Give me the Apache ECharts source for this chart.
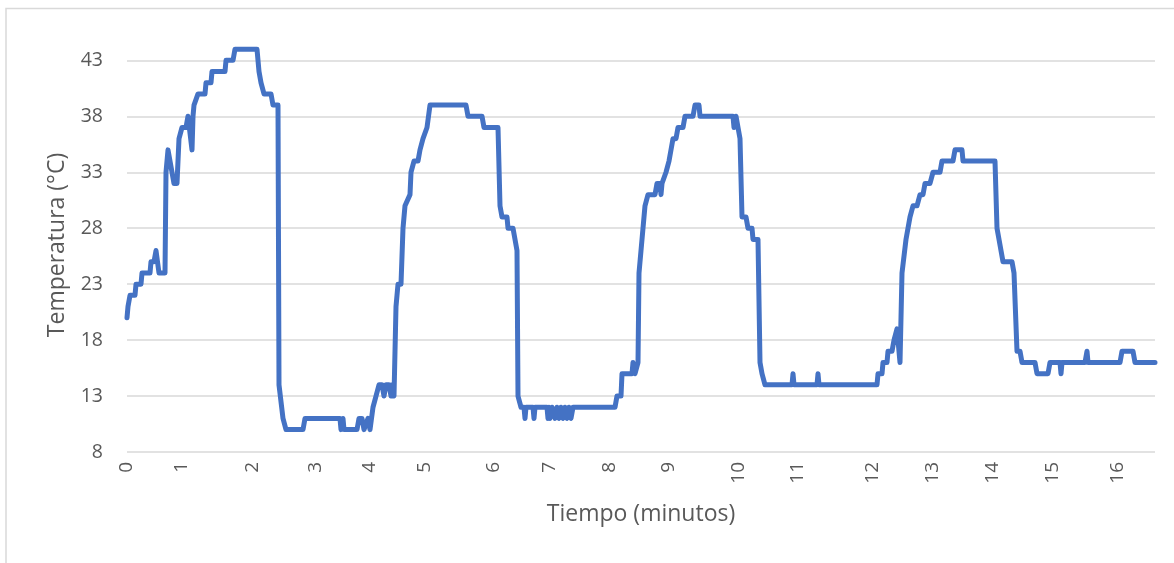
<!DOCTYPE html>
<html>
<head>
<meta charset="utf-8">
<script src="https://cdn.jsdelivr.net/npm/echarts@6/dist/echarts.min.js"></script>
<style>html,body{margin:0;padding:0;background:#fff;}#c{width:1174px;height:563px;}</style>
</head>
<body>
<div id="c"></div>
<script>
// Sample count (category axis of samples, as in the original spreadsheet chart)
var sampleCount = 1029;
// Sample index at which each minute label appears
var minuteStarts = [0, 55, 126, 189, 243, 298, 367, 423, 483, 542, 612, 671, 746, 806, 866, 926, 991];
var minuteLabels = ['0','1','2','3','4','5','6','7','8','9','10','11','12','13','14','15','16'];
// Y axis ticks
var yMin = 8, yStep = 5;
// Temperature readings: [sample index, °C]
var temperature = [
[0,20],[1,21],[3,22],[8,22],[9,23],[14,23],[15,24],[23,24],[24,25],[27,25],[29,26],[30,26],[32,24],[38,24],
[39,33],[41,35],[43,35],[47,32],[50,32],[52,36],[54,36],[55,37],[59,37],[61,38],[63,38],[65,35],[66,38],[67,39],[69,39],
[71,40],[78,40],[79,41],[84,41],[85,42],[98,42],[99,43],[106,43],[108,44],[130,44],[132,42],[134,41],[137,40],[144,40],
[146,39],[151,39],[152,14],[156,11],[157,11],[159,10],[176,10],[178,11],[213,11],[214,10],[216,11],[217,10],[230,10],
[232,11],[235,11],[237,10],[239,10],[241,11],[243,10],[246,12],[249,13],[252,14],[255,14],[257,13],[259,14],[262,14],
[264,13],[265,14],[267,13],[268,13],[269,21],[271,23],[274,23],[276,28],[278,30],[280,30],[283,31],[284,33],[287,34],
[291,34],[293,35],[296,36],[300,37],[303,39],[339,39],[341,38],[355,38],[357,37],[371,37],[373,30],[375,29],[380,29],
[381,28],[386,28],[388,27],[390,26],[391,13],[394,12],[397,12],[398,11],[399,12],[406,12],[407,11],[408,12],[420,12],
[421,11],[422,12],[423,11],[425,12],[428,11],[430,12],[432,11],[434,12],[436,11],[438,12],[440,11],[442,12],[444,11],
[446,12],[488,12],[490,13],[494,13],[495,15],[505,15],[506,16],[508,15],[510,15],[511,16],[512,24],[515,27],[518,30],
[521,31],[528,31],[530,32],[533,32],[534,31],[535,32],[537,32],[539,33],[542,34],[544,35],[546,36],[549,36],[551,37],
[556,37],[558,38],[566,38],[568,39],[572,39],[573,38],[606,38],[607,37],[609,38],[610,38],[613,36],[615,29],[619,29],
[621,28],[625,28],[626,27],[631,27],[633,16],[635,15],[638,14],[665,14],[666,15],[667,14],[690,14],[691,15],[692,14],
[750,14],[751,15],[755,15],[756,16],[760,16],[761,17],[765,17],[767,18],[770,19],[773,16],[775,24],[779,27],[783,29],
[786,30],[790,30],[793,31],[796,31],[798,32],[803,32],[806,33],[813,33],[815,34],[826,34],[828,35],[835,35],[836,34],
[868,34],[870,28],[872,27],[876,25],[885,25],[887,24],[888,24],[890,17],[893,17],[895,16],[908,16],[910,15],[921,15],
[923,16],[933,16],[934,15],[935,16],[958,16],[960,17],[961,16],[993,16],[995,17],[1006,17],[1008,16],[1028,16]
];

var categories = [];
for (var i = 0; i < sampleCount; i++) categories.push('');
minuteStarts.forEach(function (s, k) { categories[s] = minuteLabels[k]; });
var labelSet = {};
minuteStarts.forEach(function (s) { labelSet[s] = true; });

var font = '"Open Sans", sans-serif';
var chart = echarts.init(document.getElementById('c'), null, {renderer: 'canvas'});
chart.setOption({
  animation: false,
  backgroundColor: '#ffffff',
  graphic: [{
    type: 'rect', silent: true, z: -10,
    shape: {x: 6, y: 8.5, width: 1300, height: 700},
    style: {fill: 'none', stroke: '#d9d9d9', lineWidth: 1.5}
  }],
  grid: {left: 127, right: 19, top: 10, bottom: 111, containLabel: false},
  xAxis: {
    type: 'category',
    data: categories,
    boundaryGap: false,
    axisLine: {show: false},
    axisTick: {show: false},
    splitLine: {show: false},
    axisLabel: {
      interval: function (idx) { return labelSet[idx] === true; },
      rotate: 90,
      margin: 10,
      color: '#595959',
      fontFamily: font,
      fontSize: 19
    },
    name: 'Tiempo (minutos)',
    nameLocation: 'middle',
    nameGap: 51,
    nameTextStyle: {color: '#595959', fontFamily: font, fontSize: 23}
  },
  yAxis: {
    type: 'value',
    min: yMin,
    max: 47.5,
    interval: yStep,
    axisLine: {show: false},
    axisTick: {show: false},
    splitLine: {show: true, showMaxLine: false, lineStyle: {color: '#d9d9d9', width: 1.5}},
    axisLabel: {
      showMaxLabel: false,
      margin: 24,
      color: '#595959',
      fontFamily: font,
      fontSize: 19.5,
      formatter: function (v) { return ((v - yMin) % yStep === 0) ? String(v) : ''; }
    },
    name: 'Temperatura (°C)',
    nameLocation: 'middle',
    nameGap: 58,
    nameTextStyle: {color: '#595959', fontFamily: font, fontSize: 23, padding: [0, 28, 0, 0]}
  },
  series: [{
    type: 'line',
    data: temperature,
    showSymbol: false,
    symbol: 'none',
    smooth: false,
    clip: false,
    lineStyle: {color: '#4472C4', width: 5, join: 'round', cap: 'round'}
  }]
});
</script>
</body>
</html>
